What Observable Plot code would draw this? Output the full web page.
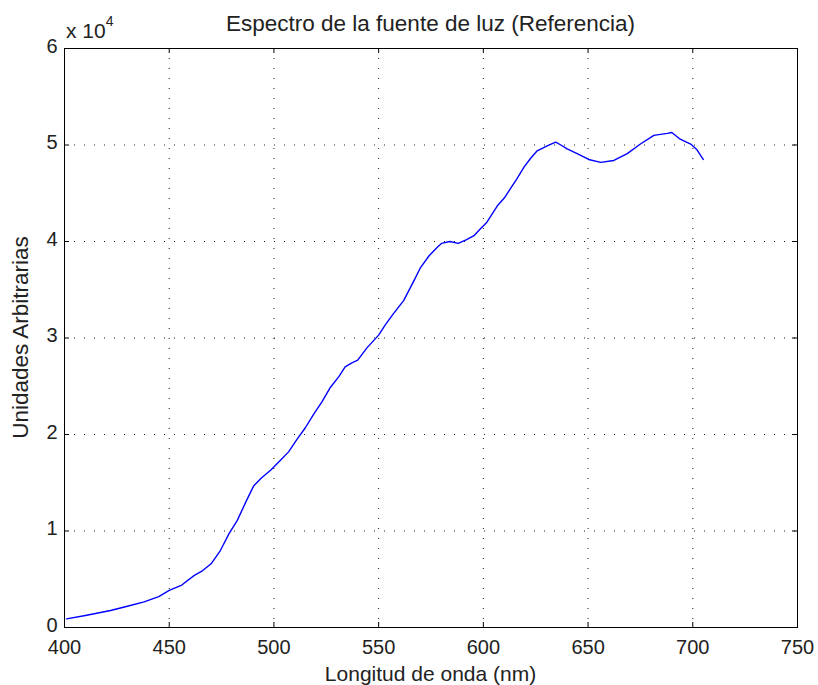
<!DOCTYPE html>
<html>
<head>
<meta charset="utf-8">
<script src="https://cdn.jsdelivr.net/npm/d3@7"></script>
<script src="https://cdn.jsdelivr.net/npm/@observablehq/plot@0.6"></script>
<style>
  html, body { margin: 0; padding: 0; background: #fff; }
  svg { display: block; }
</style>
</head>
<body>
<div id="chart"></div>
<script>
// Wavelength (nm) and intensity (arbitrary units)
const wavelength = [401, 410, 422, 430, 438, 445, 450, 456, 462, 466, 470, 474.5, 478.5, 482.5, 487, 490.4, 494, 498.4, 503, 507, 511, 515, 519, 523, 527, 531, 534, 537, 540, 544.5, 550, 553, 557, 562, 567, 570, 574, 578, 580, 584, 588, 592, 595.5, 598.5, 601.7, 606.7, 610, 613, 616, 619.4, 622.5, 625.7, 630.5, 634.5, 637, 640, 644.8, 650.3, 656, 662.3, 668.7, 675, 681.4, 687.8, 690, 694, 699, 702, 705];
const intensity = [900, 1250, 1760, 2200, 2650, 3200, 3850, 4400, 5400, 5900, 6600, 8000, 9700, 11100, 13200, 14700, 15500, 16300, 17300, 18200, 19500, 20700, 22100, 23400, 24900, 26000, 27000, 27400, 27700, 29000, 30300, 31300, 32500, 33900, 36000, 37300, 38500, 39400, 39800, 40000, 39800, 40200, 40600, 41300, 42000, 43700, 44500, 45500, 46500, 47700, 48600, 49400, 49900, 50300, 50000, 49600, 49100, 48500, 48200, 48400, 49100, 50100, 51000, 51200, 51300, 50600, 50100, 49500, 48500];

const xTicks = [400, 450, 500, 550, 600, 650, 700, 750];
const yTicks = [0, 10000, 20000, 30000, 40000, 50000, 60000];
const yTickLabels = ["0", "1", "2", "3", "4", "5", "6"];

const titleText = "Espectro de la fuente de luz (Referencia)";
const xLabel = "Longitud de onda (nm)";
const yLabel = "Unidades Arbitrarias";

const data = wavelength.map((w, i) => ({w, v: intensity[i]}));

const W = 818, H = 685;
const mL = 64, mR = 21, mT = 48, mB = 58;
const fw = W - mL - mR, fh = H - mT - mB;
const tk = 5;

const chart = Plot.plot({
  width: W,
  height: H,
  marginLeft: mL,
  marginRight: mR,
  marginTop: mT,
  marginBottom: mB,
  style: {fontFamily: "'Liberation Sans', Arial, Helvetica, sans-serif", background: "#fff", color: "#000"},
  x: {domain: [400, 750], axis: null},
  y: {domain: [0, 60000], axis: null},
  marks: [
    // dotted grid
    Plot.ruleX(xTicks.slice(1, -1), {stroke: "#000", strokeWidth: 1, strokeDasharray: "1,9", strokeOpacity: 0.9}),
    Plot.ruleY(yTicks.slice(1, -1), {stroke: "#000", strokeWidth: 1, strokeDasharray: "1,9", strokeOpacity: 0.9}),
    // inward ticks bottom/top
    Plot.tickX(xTicks, {stroke: "#000", insetTop: fh - tk}),
    Plot.tickX(xTicks, {stroke: "#000", insetBottom: fh - tk}),
    // inward ticks left/right
    Plot.tickY(yTicks, {stroke: "#000", insetRight: fw - tk}),
    Plot.tickY(yTicks, {stroke: "#000", insetLeft: fw - tk}),
    // tick labels
    Plot.text(xTicks, {x: d => d, frameAnchor: "bottom", dy: 12, text: d => String(d), fontSize: 20, fill: "#222", lineAnchor: "top"}),
    Plot.text(yTicks, {y: d => d, frameAnchor: "left", dx: -7, dy: -2, text: (d, i) => yTickLabels[i], fontSize: 20, fill: "#222", textAnchor: "end"}),
    // curve
    Plot.line(data, {x: "w", y: "v", stroke: "#0000ff", strokeWidth: 1.4}),
    Plot.frame({stroke: "#000", strokeWidth: 1})
  ]
});

const svg = d3.select(chart);
// title
svg.append("text")
  .attr("x", mL + fw / 2).attr("y", 31)
  .attr("text-anchor", "middle")
  .attr("font-size", 22.5)
  .attr("fill", "#222")
  .text(titleText);
// x label
svg.append("text")
  .attr("x", mL + fw / 2).attr("y", 681)
  .attr("text-anchor", "middle")
  .attr("font-size", 21)
  .attr("fill", "#222")
  .text(xLabel);
// y label
svg.append("text")
  .attr("transform", `translate(28, ${mT + fh / 2}) rotate(-90)`)
  .attr("text-anchor", "middle")
  .attr("font-size", 22.5)
  .attr("fill", "#222")
  .text(yLabel);
// exponent
const ex = svg.append("text")
  .attr("x", 66).attr("y", 38)
  .attr("text-anchor", "start")
  .attr("font-size", 21)
  .attr("fill", "#222");
ex.append("tspan").text("x 10");
ex.append("tspan").attr("dy", -12).attr("font-size", 14).text("4");

document.getElementById("chart").appendChild(chart);
</script>
</body>
</html>
